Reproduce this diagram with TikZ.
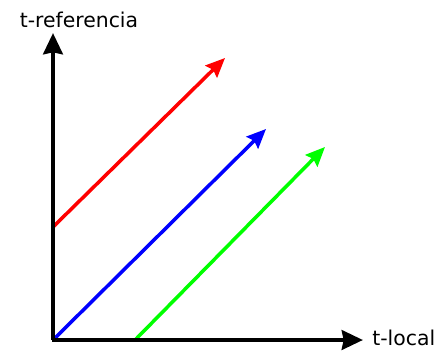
\documentclass[tikz,border=0pt]{standalone}
\usepackage{fontspec}
\setmainfont{DejaVu Sans}
\usepackage{tikz}
\usetikzlibrary{calc, arrows.meta, positioning}

\tikzset{
  axis/.style = {line width=2.6pt, -{Stealth[length=12pt, width=11pt, inset=1pt]}},
  worldline/.style = {line width=2pt, -{Stealth[length=11pt, width=9.5pt, inset=1.5pt]}},
  axislabel/.style = {font=\fontsize{11.6}{13}\selectfont, inner sep=0pt}
}

\begin{document}
\begin{tikzpicture}[x=0.02cm, y=-0.02cm]
      \useasboundingbox (0, 0) rectangle (436, 352);
      % ejes
      \coordinate (origen) at (53, 340);
      \coordinate (ytop) at (53, 33);
      \coordinate (xend) at (363, 340);
      % lineas
      \coordinate (rojoA) at (53, 227);
      \coordinate (rojoB) at (225, 58);
      \coordinate (azulA) at (54, 339);
      \coordinate (azulB) at (266, 129);
      \coordinate (verdeA) at (136, 339);
      \coordinate (verdeB) at (325, 147);
      \draw[worldline, red] (rojoA) -- (rojoB);
      \draw[worldline, blue] (azulA) -- (azulB);
      \draw[worldline, green] (verdeA) -- (verdeB);
      \draw[axis] (origen) -- (ytop);
      \draw[axis] ($(origen)+(-1.3,0)$) -- (xend);
      \node[axislabel] (tref) at (79, 20) {t-referencia};
      \node[axislabel, right=0.18cm of xend, yshift=1pt] (tloc) {t-local};
    \end{tikzpicture}
\end{document}
